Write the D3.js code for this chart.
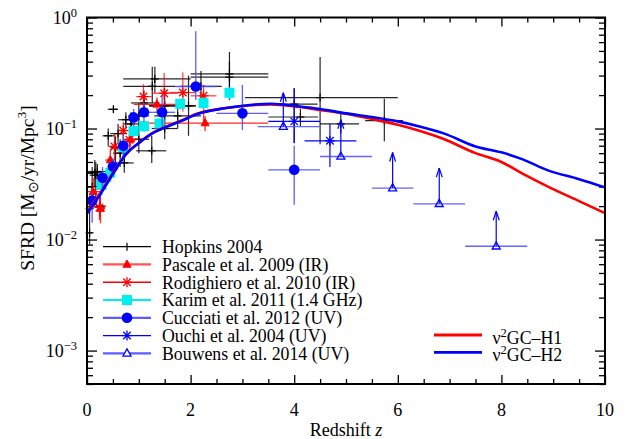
<!DOCTYPE html>
<html><head><meta charset="utf-8">
<script src="https://cdn.jsdelivr.net/npm/d3@7"></script>
<style>
body{margin:0;background:#fff}
svg{display:block}
text{font-family:"Liberation Serif","Times New Roman",serif;fill:#000}
</style>
</head><body>
<svg id="c" width="628" height="439"></svg>
<script>
// ---------------- data ----------------
const xTicks = [0, 2, 4, 6, 8, 10];
const yTickExp = [0, -1, -2, -3];

const modelZ  = [0, 0.25, 0.5, 0.77, 1.0, 1.25, 1.55, 1.8, 2.15, 2.65, 3.15, 3.55, 4.1, 4.5, 5.0, 5.5, 6.0, 6.4, 6.9, 7.5, 8.0, 8.4, 8.9, 9.5, 10];
const modelH1 = [0.0178, 0.026, 0.040, 0.060, 0.074, 0.090, 0.105, 0.117, 0.137, 0.152, 0.162, 0.165, 0.156, 0.147, 0.136, 0.122, 0.108, 0.096, 0.080, 0.060, 0.050, 0.0395, 0.030, 0.0222, 0.0173];
const modelH2 = [0.0172, 0.0253, 0.039, 0.060, 0.074, 0.090, 0.104, 0.116, 0.136, 0.152, 0.163, 0.167, 0.158, 0.150, 0.137, 0.127, 0.116, 0.105, 0.090, 0.069, 0.061, 0.053, 0.042, 0.035, 0.0295];

const hopZ   = [0.05,0.05,0.15,0.17,0.25,0.20,0.10, 0.41,0.51,0.55,0.64,0.72,0.60,0.75,0.85,1.00,1.00, 1.25,1.26,1.31,1.10,1.50,1.96,1.50,1.75,2.20, 2.75,2.75,4.00,4.12,4.50,4.90,5.74];
const hopY   = [0.0115,0.019,0.040,0.038,0.020,0.041,0.030, 0.086,0.149,0.067,0.060,0.049,0.090,0.120,0.110,0.130,0.080, 0.063,0.240,0.280,0.170,0.160,0.160,0.100,0.130,0.240, 0.310,0.290,0.166,0.127,0.190,0.110,0.118];
const hopZlo = [0.0,0.0,0.0,0.05,0.12,0.0,0.0, 0.30,0.40,0.45,0.50,0.55,0.45,0.60,0.70,0.80,0.80, 0.95,0.70,0.70,0.85,1.20,1.20,1.25,1.30,1.80, 2.00,2.00,3.45,3.50,3.05,4.50,5.37];
const hopZhi = [0.10,0.10,0.30,0.35,0.37,0.38,0.20, 0.55,0.60,0.65,0.80,0.90,0.75,0.90,1.00,1.20,1.20, 1.53,1.70,2.00,1.40,2.10,2.10,1.75,2.20,2.60, 3.50,3.50,4.45,4.46,6.00,5.25,6.10];
const hopYlo = [0.009,0.015,0.030,0.024,0.016,0.035,0.020, 0.070,0.140,0.050,0.045,0.040,0.075,0.100,0.085,0.100,0.060, 0.049,0.170,0.210,0.130,0.120,0.086,0.080,0.100,0.170, 0.180,0.200,0.074,0.105,0.072,0.090,0.077];
const hopYhi = [0.015,0.025,0.052,0.050,0.026,0.048,0.045, 0.100,0.160,0.085,0.080,0.060,0.110,0.140,0.140,0.170,0.100, 0.086,0.360,0.360,0.220,0.230,0.300,0.130,0.170,0.330, 0.490,0.400,0.230,0.150,0.440,0.140,0.185];

const pasZ   = [0.12, 0.26, 0.45, 0.84, 1.35, 2.28];
const pasY   = [0.027, 0.019, 0.052, 0.080, 0.165, 0.112];
const pasZlo = [0.0, 0.2, 0.35, 0.7, 0.9, 1.2];
const pasZhi = [0.25, 0.35, 0.55, 1.0, 1.8, 3.5];
const pasYlo = [0.019, 0.014, 0.042, 0.068, 0.14, 0.095];
const pasYhi = [0.036, 0.025, 0.065, 0.095, 0.19, 0.13];

const rodZ   = [0.24, 0.53, 0.70, 0.82, 1.09, 1.49, 1.85, 2.25];
const rodY   = [0.0195, 0.069, 0.096, 0.079, 0.194, 0.208, 0.211, 0.197];
const rodZlo = [0.15, 0.40, 0.60, 0.70, 0.95, 1.25, 1.60, 2.00];
const rodZhi = [0.35, 0.60, 0.80, 0.95, 1.25, 1.75, 2.10, 2.50];
const rodYlo = [0.015, 0.052, 0.080, 0.065, 0.150, 0.158, 0.142, 0.112];
const rodYhi = [0.025, 0.090, 0.115, 0.095, 0.250, 0.317, 0.320, 0.247];

const karZ   = [0.28, 0.45, 0.70, 0.90, 1.10, 1.40, 1.80, 2.25, 2.75];
const karY   = [0.031, 0.040, 0.068, 0.095, 0.105, 0.111, 0.167, 0.170, 0.210];
const karYlo = [0.025, 0.033, 0.056, 0.085, 0.094, 0.100, 0.150, 0.150, 0.185];
const karYhi = [0.040, 0.048, 0.080, 0.106, 0.117, 0.123, 0.186, 0.190, 0.235];

const cucZ   = [0.10, 0.30, 0.50, 0.70, 0.90, 1.10, 1.45, 2.10, 3.00, 4.00];
const cucY   = [0.0224, 0.036, 0.0455, 0.070, 0.126, 0.140, 0.140, 0.239, 0.137, 0.0425];
const cucZlo = [0.05, 0.20, 0.40, 0.60, 0.80, 1.00, 1.20, 1.70, 2.50, 3.50];
const cucZhi = [0.20, 0.40, 0.60, 0.80, 1.00, 1.20, 1.70, 2.50, 3.50, 4.50];
const cucYlo = [0.0142, 0.028, 0.038, 0.056, 0.105, 0.115, 0.100, 0.181, 0.097, 0.0206];
const cucYhi = [0.0265, 0.045, 0.054, 0.088, 0.150, 0.170, 0.200, 0.750, 0.247, 0.0700];

const ouZ   = [4.00, 4.69];
const ouY   = [0.116, 0.0775];
const ouZlo = [3.5, 4.2];
const ouZhi = [4.5, 5.2];
const ouYlo = [0.0737, 0.045];
const ouYhi = [0.231, 0.110];

const bouZ     = [3.79, 4.90, 5.90, 6.80, 7.90];
const bouY     = [0.104, 0.056, 0.0291, 0.021, 0.0087];
const bouZlo   = [3.3, 4.5, 5.5, 6.3, 7.3];
const bouZhi   = [4.5, 5.5, 6.3, 7.3, 8.5];
const bouArrow = [0.21, 0.12, 0.0608, 0.044, 0.018];

const legendLabels = ["Hopkins 2004","Pascale et al. 2009 (IR)","Rodighiero et al. 2010 (IR)","Karim et al. 2011 (1.4 GHz)","Cucciati et al. 2012 (UV)","Ouchi et al. 2004 (UV)","Bouwens et al. 2014 (UV)"];
const modelLabels = ["H1","H2"];

// ---------------- layout ----------------
const L = 87, R = 605, T = 17.5, B = 384;
const FS = 17.8;
const svg = d3.select("#c");
const x = d3.scaleLinear().domain([0, 10]).range([L, R]);
const y = d3.scaleLog().domain([5e-4, 1]).range([B, T]);

const BLUE = "#0000ff", LBLUE = "#4a4aff", RED = "#ff0000", CYAN = "#00eeee";

// ---------------- axes ----------------
const xMinor = d3.range(0, 10.01, 0.5).filter(v => Math.abs(v % 2) > 1e-6);
const yMinor = [];
for (let e = -4; e < 0; e++) for (let k = 2; k <= 9; k++) { const v = k * Math.pow(10, e); if (v >= 5e-4 && v <= 1) yMinor.push(v); }
const yMajor = yTickExp.map(e => Math.pow(10, e));

function ax(gen, tr, vals, size) {
  svg.append("g").attr("transform", tr)
    .call(gen.tickValues(vals).tickSize(size).tickFormat(""))
    .call(g => { g.select(".domain").remove(); g.selectAll("line").attr("stroke", "#000").attr("stroke-width", 1.3); });
}
ax(d3.axisBottom(x), `translate(0,${B})`, xTicks, -9);
ax(d3.axisBottom(x), `translate(0,${B})`, xMinor, -5);
ax(d3.axisTop(x), `translate(0,${T})`, xTicks, -9);
ax(d3.axisTop(x), `translate(0,${T})`, xMinor, -5);
ax(d3.axisLeft(y), `translate(${L},0)`, yMajor, -10);
ax(d3.axisLeft(y), `translate(${L},0)`, yMinor, -6);
ax(d3.axisRight(y), `translate(${R},0)`, yMajor, -10);
ax(d3.axisRight(y), `translate(${R},0)`, yMinor, -6);

// tick labels
xTicks.forEach(v => {
  svg.append("text").attr("x", x(v)).attr("y", 416).attr("text-anchor", "middle")
    .attr("font-size", 18).text(v);
});
yTickExp.forEach(e => {
  const t = svg.append("text").attr("x", 77).attr("y", y(Math.pow(10, e)) + 6.5)
    .attr("text-anchor", "end").attr("font-size", 18);
  t.append("tspan").text("10");
  t.append("tspan").attr("dy", -7).attr("font-size", 12.5).text(e === 0 ? "0" : "\u2212" + (-e));
});

// axis titles
const xt = svg.append("text").attr("x", (L + R) / 2).attr("y", 436).attr("text-anchor", "middle").attr("font-size", 18);
xt.append("tspan").text("Redshift ");
xt.append("tspan").attr("font-style", "italic").text("z");

const yt = svg.append("text").attr("transform", `translate(34,188) rotate(-90)`)
  .attr("text-anchor", "middle").attr("font-size", 19.5);
yt.append("tspan").text("SFRD [M");
yt.append("tspan").attr("font-size", 14).attr("dy", 4).text("\u2299");
yt.append("tspan").attr("dy", -4).text("/yr/Mpc");
yt.append("tspan").attr("font-size", 13.5).attr("dy", -8).text("3");
yt.append("tspan").attr("dy", 8).text("]");

// ---------------- helpers ----------------
const gData = svg.append("g");
function line(g, x1, y1, x2, y2, c, w, op) {
  g.append("line").attr("x1", x1).attr("y1", y1).attr("x2", x2).attr("y2", y2)
    .attr("stroke", c).attr("stroke-width", w).attr("stroke-opacity", op == null ? 1 : op);
}
function errbars(g, zs, vs, zlo, zhi, vlo, vhi, c, w, op) {
  zs.forEach((z, i) => {
    if (zlo) line(g, x(zlo[i]), y(vs[i]), x(zhi[i]), y(vs[i]), c, w, op);
    if (vlo) line(g, x(z), y(vlo[i]), x(z), y(vhi[i]), c, w, op);
  });
}
function plus(g, cx, cy, r, c, w) { line(g, cx - r, cy, cx + r, cy, c, w); line(g, cx, cy - r, cx, cy + r, c, w); }
function aster(g, cx, cy, r, c, w) {
  plus(g, cx, cy, r, c, w);
  const d = r * 0.75;
  line(g, cx - d, cy - d, cx + d, cy + d, c, w); line(g, cx - d, cy + d, cx + d, cy - d, c, w);
}
function tri(g, cx, cy, s, fill, stroke, w) {
  const h = s * 0.9;
  g.append("path").attr("d", `M${cx},${cy - h * 0.62}L${cx + s / 2},${cy + h * 0.38}L${cx - s / 2},${cy + h * 0.38}Z`)
    .attr("fill", fill).attr("stroke", stroke).attr("stroke-width", w);
}
function square(g, cx, cy, s, c) { g.append("rect").attr("x", cx - s / 2).attr("y", cy - s / 2).attr("width", s).attr("height", s).attr("fill", c); }
function circ(g, cx, cy, r, c) { g.append("circle").attr("cx", cx).attr("cy", cy).attr("r", r).attr("fill", c); }

// ---------------- data marks ----------------
errbars(gData, hopZ, hopY, hopZlo, hopZhi, hopYlo, hopYhi, "#000", 1.2, 0.85);
hopZ.forEach((z, i) => plus(gData, x(z), y(hopY[i]), 4, "#000", 1.2));
errbars(gData, pasZ, pasY, pasZlo, pasZhi, pasYlo, pasYhi, RED, 1.3, 0.85);
pasZ.forEach((z, i) => tri(gData, x(z), y(pasY[i]), 8, RED, RED, 1));
errbars(gData, rodZ, rodY, rodZlo, rodZhi, rodYlo, rodYhi, RED, 1.2, 0.8);
rodZ.forEach((z, i) => aster(gData, x(z), y(rodY[i]), 5, RED, 1.3));
errbars(gData, karZ, karY, null, null, karYlo, karYhi, CYAN, 2, 1);
karZ.forEach((z, i) => square(gData, x(z), y(karY[i]), 10, CYAN));
errbars(gData, cucZ, cucY, cucZlo, cucZhi, cucYlo, cucYhi, LBLUE, 1.3, 0.9);
cucZ.forEach((z, i) => circ(gData, x(z), y(cucY[i]), 5.3, BLUE));
errbars(gData, ouZ, ouY, ouZlo, ouZhi, ouYlo, ouYhi, BLUE, 1.2, 1);
ouZ.forEach((z, i) => aster(gData, x(z), y(ouY[i]), 5, BLUE, 1.3));
bouZ.forEach((z, i) => {
  const cx = x(z), cy = y(bouY[i]), ty = y(bouArrow[i]);
  line(gData, x(bouZlo[i]), cy, x(bouZhi[i]), cy, LBLUE, 1.3, 0.85);
  line(gData, cx, cy, cx, ty, BLUE, 1.2);
  line(gData, cx - 3, ty + 9, cx, ty, BLUE, 1.2);
  line(gData, cx + 3, ty + 9, cx, ty, BLUE, 1.2);
  tri(gData, cx, cy, 8, "none", BLUE, 1.3);
});

// ---------------- models ----------------
const lineGen = arr => d3.line().x((d, i) => x(modelZ[i])).y(d => y(d)).curve(d3.curveMonotoneX)(arr);
svg.append("path").attr("d", lineGen(modelH1)).attr("fill", "none").attr("stroke", RED).attr("stroke-width", 2.6);
svg.append("path").attr("d", lineGen(modelH2)).attr("fill", "none").attr("stroke", BLUE).attr("stroke-width", 2.6);

// ---------------- frame ----------------
svg.append("rect").attr("x", L).attr("y", T).attr("width", R - L).attr("height", B - T)
  .attr("fill", "none").attr("stroke", "#000").attr("stroke-width", 2);

// ---------------- legend ----------------
const lg = svg.append("g");
const ly0 = 246.7, ldy = 17.77, lx1 = 103, lx2 = 151, lxm = 127;
const legStyle = [
  {c: "#000", w: 1.2}, {c: "#ff5555", w: 2.2}, {c: RED, w: 1.3}, {c: CYAN, w: 2.2},
  {c: "#5c5cff", w: 2.2}, {c: BLUE, w: 1.3}, {c: "#5c5cff", w: 2.2}
];
legendLabels.forEach((lab, i) => {
  const yy = ly0 + i * ldy;
  line(lg, lx1, yy, lx2, yy, legStyle[i].c, legStyle[i].w);
  if (i === 0) line(lg, lxm, yy - 4, lxm, yy + 4, "#000", 1.2);
  if (i === 1) tri(lg, lxm, yy, 8, RED, RED, 1);
  if (i === 2) aster(lg, lxm, yy, 5, RED, 1.3);
  if (i === 3) square(lg, lxm, yy, 10, CYAN);
  if (i === 4) circ(lg, lxm, yy, 5.3, BLUE);
  if (i === 5) aster(lg, lxm, yy, 5, BLUE, 1.3);
  if (i === 6) tri(lg, lxm, yy, 8, "#fff", BLUE, 1.3);
  lg.append("text").attr("x", 162).attr("y", yy + 6.3).attr("font-size", FS).text(lab);
});
[RED, BLUE].forEach((c, i) => {
  const yy = 335 + i * 17.3;
  line(lg, 434, yy, 482, yy, c, 2.8);
  const t = lg.append("text").attr("x", 492.5).attr("y", yy + 8.8).attr("font-size", FS);
  t.append("tspan").text("\u03bd");
  t.append("tspan").attr("dy", -7).attr("font-size", 12.5).text("2");
  t.append("tspan").attr("dy", 7).text("GC\u2013" + modelLabels[i]);
});
</script>
</body></html>
